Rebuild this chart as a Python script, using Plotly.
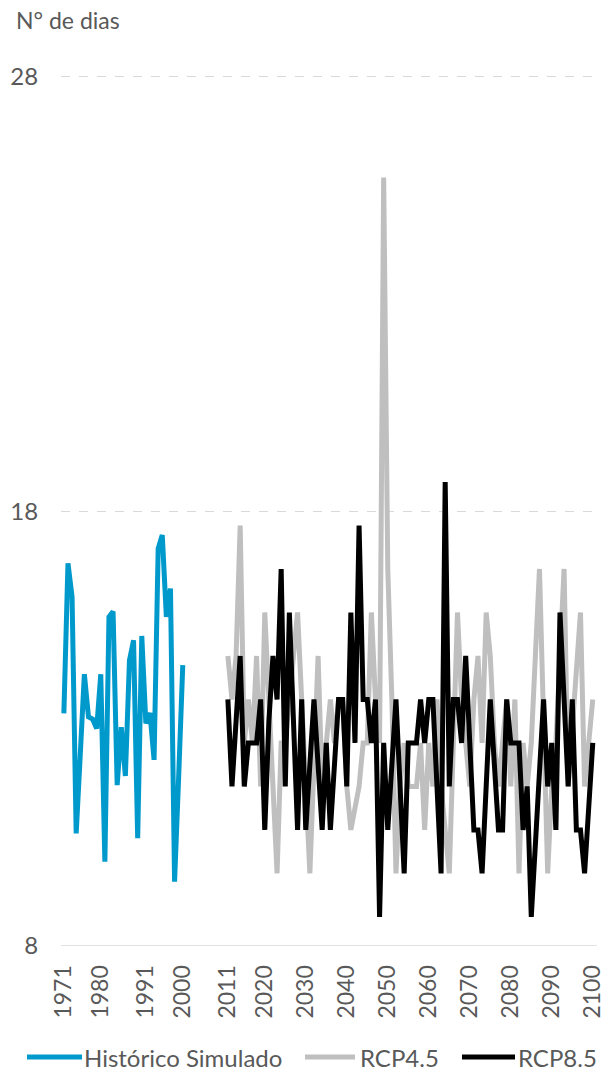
import plotly.graph_objects as go

hist_years = list(range(1971, 2001))
hist_vals = [13.35, 16.8, 16.03, 10.59, 12.4, 14.25, 13.27, 13.22, 13.0, 14.25,
             9.94, 15.57, 15.69, 11.7, 13.03, 11.91, 14.57, 15.03, 10.48, 15.13,
             13.12, 13.36, 12.28, 17.14, 17.45, 15.57, 16.22, 9.48, 11.9, 14.46]

rcp_years = list(range(2011, 2101))
rcp45_vals = [14.67, 13.67, 14.67, 17.67, 12.67, 13.67, 12.67, 14.67, 11.67, 15.67,
              13.67, 11.67, 9.67, 12.67, 12.67, 13.67, 14.67, 15.67, 13.67, 11.67,
              9.67, 12.17, 14.67, 11.67, 12.67, 13.67, 12.67, 13.67, 13.67, 11.67,
              10.67, 11.17, 11.67, 12.67, 12.67, 15.67, 13.67, 12.67, 25.67, 16.67,
              13.67, 9.67, 11.67, 12.67, 11.67, 11.67, 11.67, 12.67, 10.67, 12.67,
              11.67, 13.67, 11.67, 10.67, 9.67, 12.67, 15.67, 13.67, 12.67, 11.67,
              13.67, 14.67, 12.67, 15.67, 14.67, 12.67, 11.67, 12.67, 13.67, 11.67,
              13.67, 9.67, 12.67, 11.67, 12.67, 14.67, 16.67, 13.17, 9.67, 11.67,
              12.67, 14.67, 16.67, 11.67, 13.0, 14.33, 15.67, 11.67, 12.67, 13.67]
rcp85_vals = [13.67, 11.67, 13.17, 14.67, 11.67, 12.67, 12.67, 12.67, 13.67, 10.67,
              13.17, 14.67, 13.67, 16.67, 11.67, 15.67, 13.17, 10.67, 13.67, 10.67,
              12.17, 13.67, 12.17, 10.67, 12.67, 10.67, 12.17, 13.67, 13.67, 11.67,
              15.67, 12.67, 17.67, 13.67, 13.67, 12.67, 13.67, 8.67, 12.67, 10.67,
              12.17, 13.67, 11.67, 9.67, 12.67, 12.67, 12.67, 13.67, 12.67, 13.67,
              13.67, 11.67, 9.67, 18.67, 11.67, 13.67, 13.67, 12.67, 14.67, 12.67,
              10.67, 10.67, 9.67, 11.67, 13.67, 12.17, 10.67, 10.67, 13.67, 12.67,
              12.67, 12.67, 10.67, 11.67, 8.67, 10.33, 12.0, 13.67, 11.67, 12.67,
              10.67, 15.67, 13.67, 11.67, 13.67, 10.67, 10.67, 9.67, 11.17, 12.67]

tick_years = [1971, 1980, 1991, 2000, 2011, 2020, 2030, 2040, 2050, 2060, 2070, 2080, 2090, 2100]
y_ticks = [8, 18, 28]

series_names = ["Histórico Simulado", "RCP4.5", "RCP8.5"]
series_colors = ["#0099CC", "#BFBFBF", "#000000"]

FONT = "Lato"
TXT = "#595959"
W, H = 605, 1076
ML, MR, MT, MB = 61, 8, 75, 130
PW, PH = W - ML - MR, H - MT - MB


def px_x(px):
    return (px - ML) / PW


def px_y(py):
    return (H - MB - py) / PH


fig = go.Figure()
fig.add_trace(go.Scatter(x=hist_years, y=hist_vals, mode="lines", name=series_names[0],
                         line=dict(color=series_colors[0], width=5)))
fig.add_trace(go.Scatter(x=rcp_years, y=rcp45_vals, mode="lines", name=series_names[1],
                         line=dict(color=series_colors[1], width=5)))
fig.add_trace(go.Scatter(x=rcp_years, y=rcp85_vals, mode="lines", name=series_names[2],
                         line=dict(color=series_colors[2], width=5)))

# custom legend (long line keys like the reference)
legend_y = px_y(1057)
key_spans = [(27, 82), (305, 355), (462, 515)]
text_starts = [82, 358, 516]
shapes = [dict(type="line", xref="paper", yref="y", x0=0, x1=1, y0=8, y1=8,
               line=dict(color="#D9D9D9", width=1.5), layer="below")]
annotations = [dict(text="N° de dias", xref="paper", yref="paper", x=px_x(14), y=px_y(20),
                    xanchor="left", yanchor="middle", showarrow=False,
                    font=dict(size=23, color=TXT))]
for (a, b), ts, name, col in zip(key_spans, text_starts, series_names, series_colors):
    shapes.append(dict(type="line", xref="paper", yref="paper", x0=px_x(a), x1=px_x(b),
                       y0=legend_y, y1=legend_y, line=dict(color=col, width=5)))
    annotations.append(dict(text=name, xref="paper", yref="paper", x=px_x(ts), y=legend_y,
                            xanchor="left", yanchor="middle", showarrow=False,
                            font=dict(size=24, color=TXT)))

fig.update_layout(
    width=W, height=H,
    margin=dict(l=ML, r=MR, t=MT, b=MB),
    plot_bgcolor="white", paper_bgcolor="white",
    font=dict(family=FONT, color=TXT, size=22),
    showlegend=False,
    xaxis=dict(range=[1970.3, 2101.03], tickmode="array", tickvals=tick_years,
               ticktext=[str(t) for t in tick_years], tickangle=-90,
               ticklabeloverflow="allow",
               showgrid=False, zeroline=False, showline=False, automargin=False,
               ticks="outside", ticklen=9, tickcolor="rgba(0,0,0,0)",
               tickfont=dict(size=23, color=TXT)),
    yaxis=dict(range=[8, 28.03], tickmode="array", tickvals=y_ticks,
               showgrid=True, gridcolor="#D9D9D9", griddash="dash", gridwidth=1.2,
               zeroline=False, showline=False, automargin=False,
               ticks="outside", ticklen=17, tickcolor="rgba(0,0,0,0)",
               tickfont=dict(size=24, color=TXT)),
    shapes=shapes,
    annotations=annotations,
)

fig.write_html("out.html", config={"displayModeBar": False},
               post_script="document.body.style.margin='0';document.body.style.overflow='hidden';")
